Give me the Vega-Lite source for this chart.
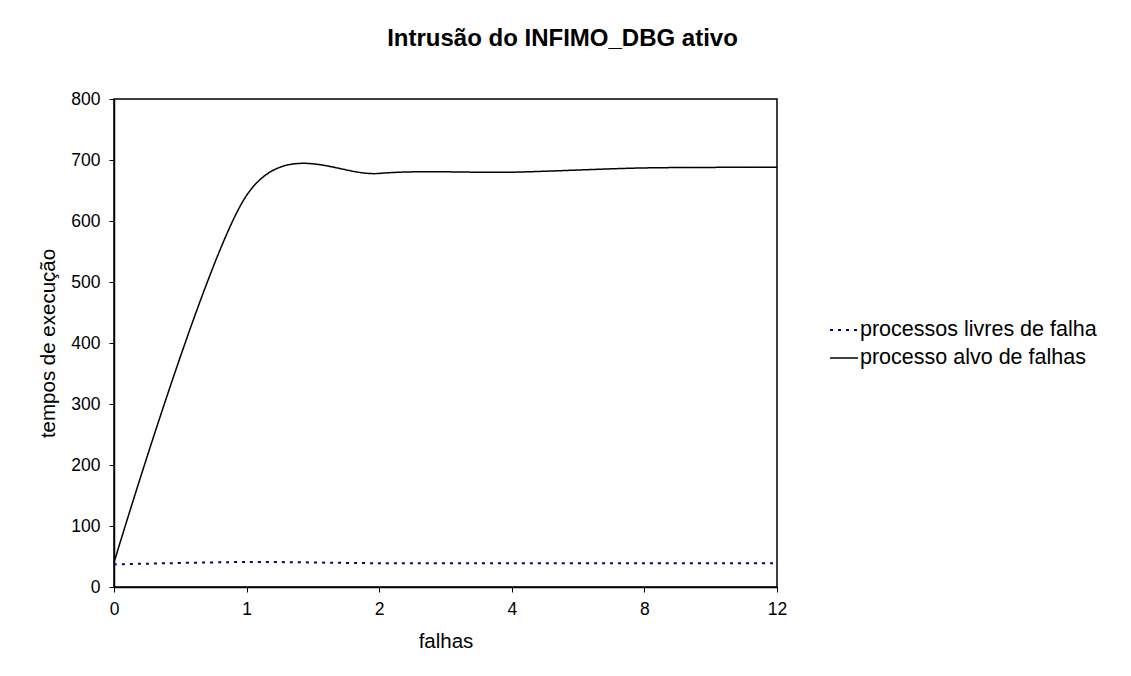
{
  "$schema": "https://vega.github.io/schema/vega-lite/v6.json",
  "width": 663,
  "height": 488,
  "autosize": {"type": "none"},
  "padding": {"left": 114, "top": 99, "right": 354, "bottom": 89},
  "background": "white",
  "title": {
    "text": "Intrusão do INFIMO_DBG ativo",
    "font": "Liberation Sans",
    "fontSize": 24,
    "fontWeight": "bold",
    "color": "black",
    "anchor": "middle",
    "dx": 117,
    "offset": 39
  },
  "config": {
    "view": {"stroke": "black", "strokeWidth": 1.5},
    "font": "Liberation Sans"
  },
  "data": {
    "values": [
      {"falhas": "0", "serie": "processos livres de falha", "tempo": 37},
      {"falhas": "1", "serie": "processos livres de falha", "tempo": 41},
      {"falhas": "2", "serie": "processos livres de falha", "tempo": 39},
      {"falhas": "4", "serie": "processos livres de falha", "tempo": 39},
      {"falhas": "8", "serie": "processos livres de falha", "tempo": 39},
      {"falhas": "12", "serie": "processos livres de falha", "tempo": 39},
      {"falhas": "0", "serie": "processo alvo de falhas", "tempo": 40},
      {"falhas": "1", "serie": "processo alvo de falhas", "tempo": 642},
      {"falhas": "2", "serie": "processo alvo de falhas", "tempo": 678},
      {"falhas": "4", "serie": "processo alvo de falhas", "tempo": 680},
      {"falhas": "8", "serie": "processo alvo de falhas", "tempo": 687},
      {"falhas": "12", "serie": "processo alvo de falhas", "tempo": 688}
    ]
  },
  "mark": {"type": "line", "interpolate": "cardinal", "tension": 0.1},
  "encoding": {
    "x": {
      "field": "falhas",
      "type": "ordinal",
      "sort": null,
      "scale": {"type": "point", "padding": 0},
      "axis": {
        "title": "falhas",
        "labelAngle": 0,
        "labelFontSize": 17.5,
        "labelColor": "black",
        "labelPadding": 8,
        "tickSize": 5,
        "tickColor": "black",
        "domainColor": "black",
        "domainWidth": 1.5,
        "tickWidth": 1,
        "titleFontSize": 20.5,
        "titleFontWeight": "normal",
        "titleColor": "black",
        "titlePadding": 14,
        "grid": false
      }
    },
    "y": {
      "field": "tempo",
      "type": "quantitative",
      "scale": {"domain": [0, 800]},
      "axis": {
        "title": "tempos de execução",
        "values": [0, 100, 200, 300, 400, 500, 600, 700, 800],
        "labelFontSize": 17.5,
        "labelColor": "black",
        "labelPadding": 9,
        "tickSize": 5,
        "tickColor": "black",
        "domainColor": "black",
        "domainWidth": 1.5,
        "titleFontSize": 20.5,
        "titleFontWeight": "normal",
        "titleColor": "black",
        "titlePadding": 12,
        "grid": false
      }
    },
    "color": {
      "field": "serie",
      "type": "nominal",
      "sort": null,
      "scale": {"domain": ["processos livres de falha", "processo alvo de falhas"], "range": ["#000080", "#000000"]},
      "legend": {
        "orient": "none",
        "legendX": 715,
        "legendY": 216,
        "title": null,
        "labelFontSize": 21.5,
        "labelColor": "black",
        "labelLimit": 0,
        "symbolType": "stroke",
        "symbolSize": 784,
        "labelOffset": 1,
        "rowPadding": 2
      }
    },
    "strokeDash": {
      "field": "serie",
      "type": "nominal",
      "sort": null,
      "scale": {"domain": ["processos livres de falha", "processo alvo de falhas"], "range": [[3, 5], [1, 0]]}
    },
    "strokeWidth": {
      "field": "serie",
      "type": "nominal",
      "sort": null,
      "scale": {"domain": ["processos livres de falha", "processo alvo de falhas"], "range": [2, 1.5]}
    }
  }
}
